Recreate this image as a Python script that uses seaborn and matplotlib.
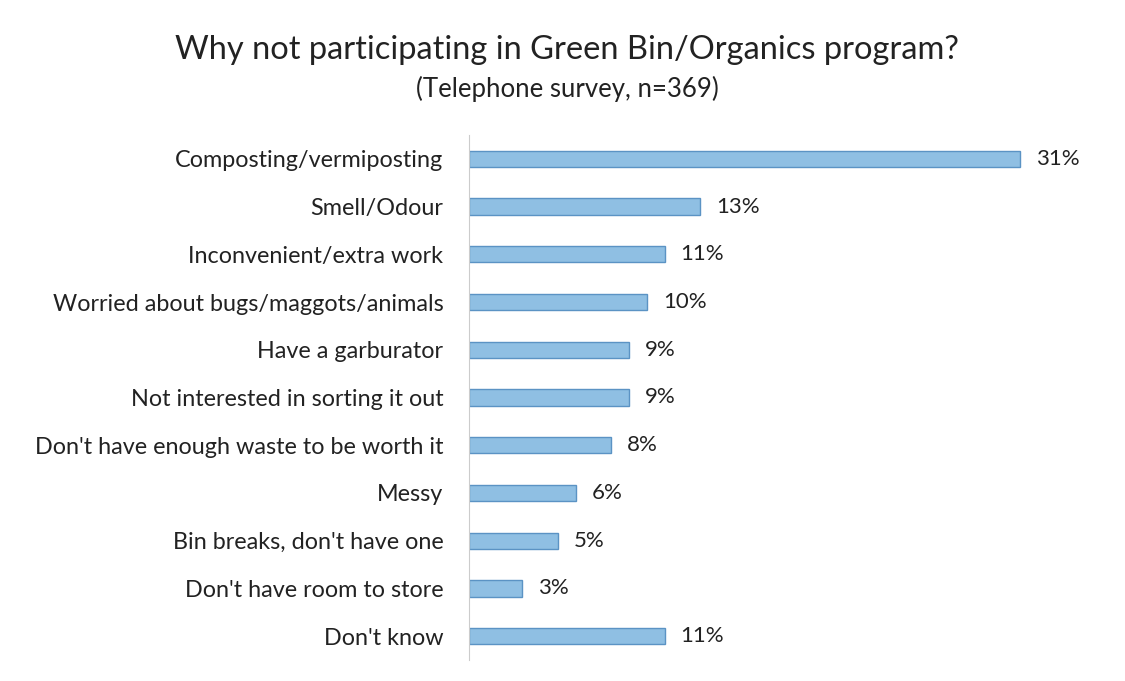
import pandas as pd
import matplotlib.pyplot as plt
import seaborn as sns

reasons = [
    "Composting/vermiposting",
    "Smell/Odour",
    "Inconvenient/extra work",
    "Worried about bugs/maggots/animals",
    "Have a garburator",
    "Not interested in sorting it out",
    "Don't have enough waste to be worth it",
    "Messy",
    "Bin breaks, don't have one",
    "Don't have room to store",
    "Don't know",
]
percents = [31, 13, 11, 10, 9, 9, 8, 6, 5, 3, 11]

df = pd.DataFrame({"reason": reasons, "pct": percents})

sns.set_style("white")
plt.rcParams['font.family'] = ['Lato', 'DejaVu Sans']

fig = plt.figure(figsize=(11.25, 6.81), dpi=100)
ax = fig.add_axes([469 / 1125, 21 / 681, 631 / 1125, 525 / 681])

sns.barplot(data=df, x="pct", y="reason", orient="h", color="#8fbfe3",
            edgecolor="#5b93c4", linewidth=1, width=0.34, saturation=1, ax=ax)

for i, v in enumerate(percents):
    ax.text(v + 0.9, i, f"{v}%", va="center", ha="left", fontsize=16, color="#222222")

ax.set_xlim(0, 35.5)
ax.set_ylim(10.5, -0.5)
ax.set_xlabel("")
ax.set_ylabel("")
ax.set_xticks([])
ax.tick_params(axis="y", length=4, color="#bbbbbb", labelsize=16.8, labelcolor="#222222", pad=14.5)
for s in ["top", "right", "bottom"]:
    ax.spines[s].set_visible(False)
ax.spines["left"].set_color("#cccccc")

fig.text(0.504, 0.926, "Why not participating in Green Bin/Organics program?",
         ha="center", va="center", fontsize=23.5, color="#222222")
fig.text(0.504, 0.87, "(Telephone survey, n=369)",
         ha="center", va="center", fontsize=18.5, color="#222222")

fig.savefig("out.png", dpi=100, facecolor="white")
